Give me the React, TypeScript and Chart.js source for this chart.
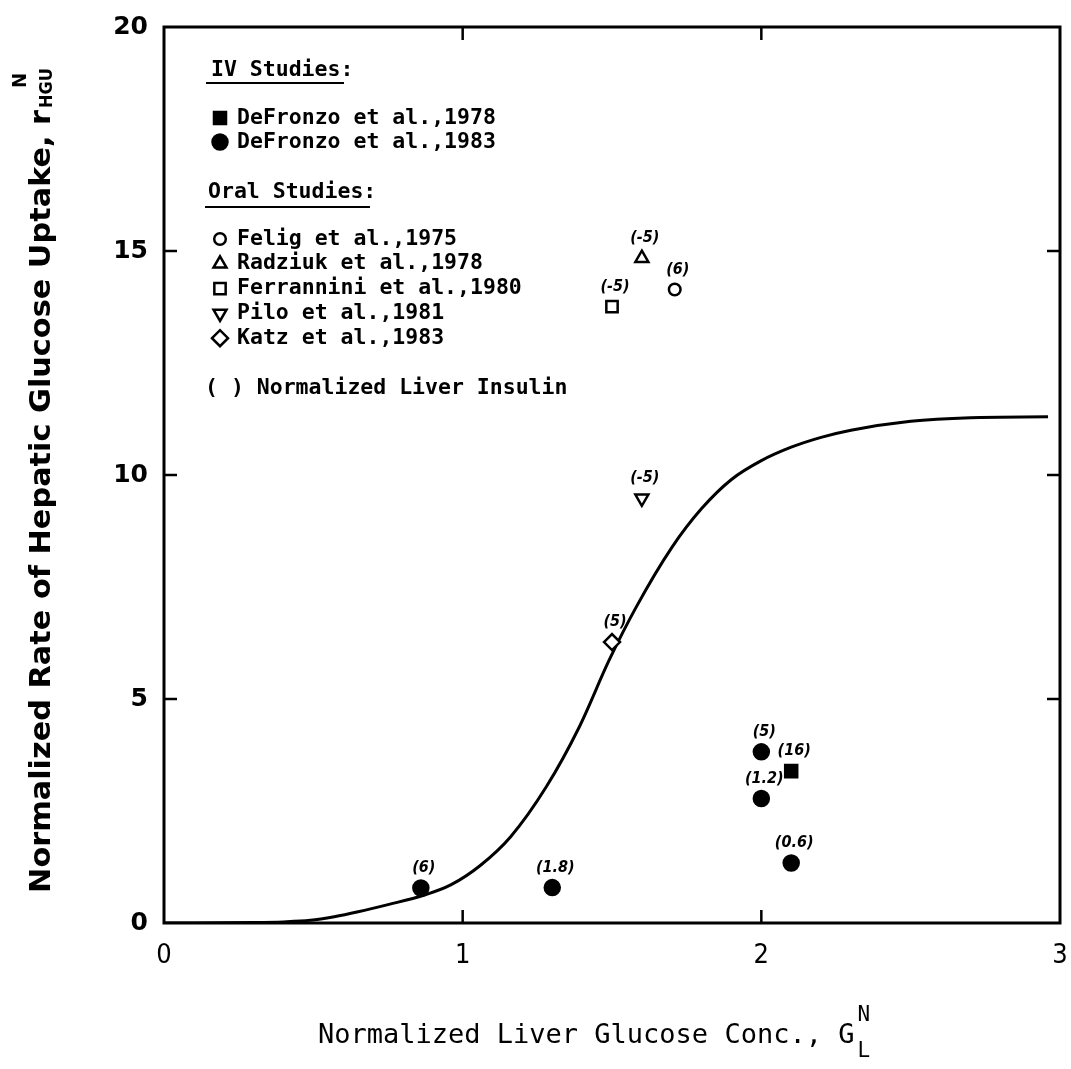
import React, { useEffect, useRef } from 'react';
import { Chart, registerables } from 'chart.js';
import { drawPoint } from 'chart.js/helpers';

Chart.register(...registerables);

// ---------------- data ----------------
const xRange = [0, 3];
const yRange = [0, 20];
const xStep = 1;
const yStep = 5;
const frameTicksX = [1, 2];
const frameTicksY = [5, 10, 15];

// model curve
const curveX = [0, 0.3, 0.4, 0.49, 0.57, 0.65, 0.75, 0.87, 0.96, 1.06, 1.16, 1.28, 1.39, 1.49, 1.58, 1.7, 1.8, 1.9, 2.0, 2.1, 2.2, 2.3, 2.5, 2.7, 2.96];
const curveY = [0, 0.01, 0.025, 0.06, 0.14, 0.25, 0.41, 0.62, 0.85, 1.29, 1.92, 3.04, 4.37, 5.86, 7.04, 8.38, 9.25, 9.9, 10.32, 10.62, 10.84, 11.0, 11.2, 11.28, 11.3];

// IV studies
const defronzo78X = [2.1];
const defronzo78Y = [3.39];
const defronzo78Ins = ['(16)'];

const defronzo83X = [0.86, 1.3, 2.0, 2.0, 2.1];
const defronzo83Y = [0.78, 0.79, 3.82, 2.78, 1.34];
const defronzo83Ins = ['(6)', '(1.8)', '(5)', '(1.2)', '(0.6)'];

// Oral studies
const feligX = [1.71];
const feligY = [14.14];
const feligIns = ['(6)'];

const radziukX = [1.6];
const radziukY = [14.84];
const radziukIns = ['(-5)'];

const ferranniniX = [1.5];
const ferranniniY = [13.76];
const ferranniniIns = ['(-5)'];

const piloX = [1.6];
const piloY = [9.48];
const piloIns = ['(-5)'];

const katzX = [1.5];
const katzY = [6.27];
const katzIns = ['(5)'];

// texts
const ivHeader = 'IV Studies:';
const oralHeader = 'Oral Studies:';
const insulinNote = '( ) Normalized Liver Insulin';
const xTitleMain = 'Normalized Liver Glucose Conc., G';
const xTitleSup = 'N';
const xTitleSub = 'L';
const yTitleMain = 'Normalized Rate of Hepatic Glucose Uptake, r';
const yTitleSup = 'N';
const yTitleSub = 'HGU';

// ---------------- helpers ----------------
const zip = (xs: number[], ys: number[]) => xs.map((x, i) => ({ x, y: ys[i] }));

const MONO = '"DejaVu Sans Mono", "Liberation Mono", monospace';
const COND = '"DejaVu Sans Condensed", "DejaVu Sans", sans-serif';

const pointDataset = (
  label: string,
  xs: number[],
  ys: number[],
  ins: string[],
  style: string,
  radius: number,
  filled: boolean,
  rotation = 0,
  group = 'oral'
) => ({
  label,
  data: zip(xs, ys),
  insulin: ins,
  group,
  pointStyle: style,
  pointRadius: radius,
  pointHoverRadius: radius,
  pointRotation: rotation,
  pointBorderWidth: 2.5,
  pointBorderColor: '#000',
  pointBackgroundColor: filled ? '#000' : '#fff',
  borderColor: '#000',
  backgroundColor: filled ? '#000' : '#fff',
  showLine: false,
  order: 1,
});

const framePlugin = {
  id: 'frame',
  beforeDatasetsDraw(chart: any) {
    const { ctx, chartArea: a, scales } = chart;
    ctx.save();
    ctx.strokeStyle = '#000';
    ctx.lineWidth = 3;
    ctx.strokeRect(a.left, a.top, a.right - a.left, a.bottom - a.top);
    ctx.lineWidth = 2.5;
    const tl = 13;
    frameTicksX.forEach((v) => {
      const x = scales.x.getPixelForValue(v);
      ctx.beginPath();
      ctx.moveTo(x, a.bottom);
      ctx.lineTo(x, a.bottom - tl);
      ctx.moveTo(x, a.top);
      ctx.lineTo(x, a.top + tl);
      ctx.stroke();
    });
    frameTicksY.forEach((v) => {
      const y = scales.y.getPixelForValue(v);
      ctx.beginPath();
      ctx.moveTo(a.left, y);
      ctx.lineTo(a.left + tl, y);
      ctx.moveTo(a.right, y);
      ctx.lineTo(a.right - tl, y);
      ctx.stroke();
    });
    ctx.restore();
  },
};

const insulinLabelPlugin = {
  id: 'insulinLabels',
  afterDatasetsDraw(chart: any) {
    const { ctx } = chart;
    ctx.save();
    ctx.fillStyle = '#000';
    ctx.font = 'bold italic 16px ' + COND;
    ctx.textAlign = 'center';
    ctx.textBaseline = 'middle';
    chart.data.datasets.forEach((ds: any, i: number) => {
      if (!ds.insulin) return;
      const meta = chart.getDatasetMeta(i);
      meta.data.forEach((el: any, j: number) => {
        ctx.fillText(ds.insulin[j], el.x + 3, el.y - 20);
      });
    });
    ctx.restore();
  },
};

const legendPlugin = {
  id: 'customLegend',
  afterDraw(chart: any) {
    const { ctx } = chart;
    const dss = chart.data.datasets.filter((d: any) => d.insulin);
    ctx.save();
    ctx.fillStyle = '#000';
    ctx.strokeStyle = '#000';
    ctx.font = 'bold 21.5px ' + MONO;
    ctx.textAlign = 'left';
    ctx.textBaseline = 'middle';

    // IV header
    ctx.fillText(ivHeader, 211, 70);
    ctx.lineWidth = 2;
    ctx.beginPath();
    ctx.moveTo(206, 83);
    ctx.lineTo(344, 83);
    ctx.stroke();

    const drawEntry = (ds: any, y: number) => {
      ctx.lineWidth = 2.5;
      ctx.fillStyle = ds.pointBackgroundColor;
      ctx.strokeStyle = '#000';
      drawPoint(
        ctx,
        { pointStyle: ds.pointStyle, radius: ds.pointRadius, rotation: ds.pointRotation, borderWidth: 2.5 },
        220,
        y
      );
      ctx.fillStyle = '#000';
      ctx.fillText(ds.label, 237, y);
    };

    const iv = dss.filter((d: any) => d.group === 'iv');
    const oral = dss.filter((d: any) => d.group === 'oral');
    iv.forEach((ds: any, k: number) => drawEntry(ds, 118 + k * 24));

    ctx.fillText(oralHeader, 208, 192);
    ctx.lineWidth = 2;
    ctx.beginPath();
    ctx.moveTo(205, 207);
    ctx.lineTo(370, 207);
    ctx.stroke();

    oral.forEach((ds: any, k: number) => drawEntry(ds, 239 + k * 24.8));

    ctx.fillText(insulinNote, 205, 388);
    ctx.restore();
  },
};

const titlePlugin = {
  id: 'axisTitles',
  afterDraw(chart: any) {
    const { ctx } = chart;
    ctx.save();
    ctx.fillStyle = '#000';
    ctx.textAlign = 'left';
    ctx.textBaseline = 'alphabetic';

    // x title
    ctx.font = '27px ' + MONO;
    const xStart = 318;
    const xBase = 1043;
    ctx.fillText(xTitleMain, xStart, xBase);
    const wMain = ctx.measureText(xTitleMain).width;
    ctx.font = '21px ' + MONO;
    ctx.fillText(xTitleSup, xStart + wMain + 3, xBase - 22);
    ctx.fillText(xTitleSub, xStart + wMain + 3, xBase + 14);

    // y title (rotated)
    const yBottom = 893;
    const yTop = 110;
    const cx = 50; // baseline x
    ctx.translate(cx, yBottom);
    ctx.rotate(-Math.PI / 2);
    ctx.font = 'bold 28px ' + COND;
    const wy = ctx.measureText(yTitleMain).width;
    const target = yBottom - yTop;
    ctx.save();
    ctx.scale(target / wy, 1);
    ctx.fillText(yTitleMain, 0, 0);
    ctx.restore();
    ctx.font = 'bold 20px ' + COND;
    ctx.fillText(yTitleSup, target + 22, -24);
    ctx.font = 'bold 18px ' + COND;
    ctx.fillText(yTitleSub, target + 2, 2);
    ctx.restore();
  },
};

export default function App() {
  const ref = useRef<HTMLCanvasElement>(null);

  useEffect(() => {
    if (!ref.current) return;
    document.body.style.overflow = 'hidden';
    const datasets: any[] = [
      pointDataset('DeFronzo et al.,1978', defronzo78X, defronzo78Y, defronzo78Ins, 'rect', 8.5, true, 0, 'iv'),
      pointDataset('DeFronzo et al.,1983', defronzo83X, defronzo83Y, defronzo83Ins, 'circle', 7.5, true, 0, 'iv'),
      pointDataset('Felig et al.,1975', feligX, feligY, feligIns, 'circle', 5.8, false),
      pointDataset('Radziuk et al.,1978', radziukX, radziukY, radziukIns, 'triangle', 7.5, false),
      pointDataset('Ferrannini et al.,1980', ferranniniX, ferranniniY, ferranniniIns, 'rect', 8, false),
      pointDataset('Pilo et al.,1981', piloX, piloY, piloIns, 'triangle', 7.5, false, 180),
      pointDataset('Katz et al.,1983', katzX, katzY, katzIns, 'rectRot', 8, false),
      {
        label: 'Model',
        data: zip(curveX, curveY),
        showLine: true,
        borderColor: '#000',
        borderWidth: 3,
        pointRadius: 0,
        pointHoverRadius: 0,
        cubicInterpolationMode: 'monotone',
        fill: false,
        order: 10,
      },
    ];

    const tickFontY = { family: '"DejaVu Sans", sans-serif', size: 25, weight: 'bold' as const };
    const tickFontX = { family: COND, size: 27 };

    const chart = new Chart(ref.current, {
      type: 'scatter',
      data: { datasets },
      options: {
        animation: false,
        responsive: true,
        maintainAspectRatio: false,
        layout: { padding: { left: 0, right: 9, top: 27, bottom: 0 } },
        plugins: {
          legend: { display: false },
          tooltip: { enabled: false },
          title: { display: false },
        },
        events: [],
        scales: {
          x: {
            type: 'linear',
            min: xRange[0],
            max: xRange[1],
            ticks: { stepSize: xStep, color: '#000', font: tickFontX, padding: 17 },
            grid: { display: false, drawTicks: false },
            border: { display: false },
            afterFit: (s: any) => {
              s.height = 146;
              s.paddingLeft = 0;
              s.paddingRight = 0;
            },
          },
          y: {
            type: 'linear',
            min: yRange[0],
            max: yRange[1],
            ticks: { stepSize: yStep, color: '#000', font: tickFontY, padding: 16 },
            grid: { display: false, drawTicks: false },
            border: { display: false },
            afterFit: (s: any) => {
              s.width = 164;
              s.paddingTop = 0;
              s.paddingBottom = 0;
            },
          },
        },
      } as any,
      plugins: [framePlugin, insulinLabelPlugin, legendPlugin, titlePlugin],
    });
    return () => chart.destroy();
  }, []);

  return (
    <div
      style={{
        position: 'absolute',
        left: 0,
        top: 0,
        width: 1071,
        height: 1069,
        overflow: 'hidden',
        background: '#fff',
      }}
    >
      <canvas ref={ref} style={{ display: 'block' }} />
    </div>
  );
}
